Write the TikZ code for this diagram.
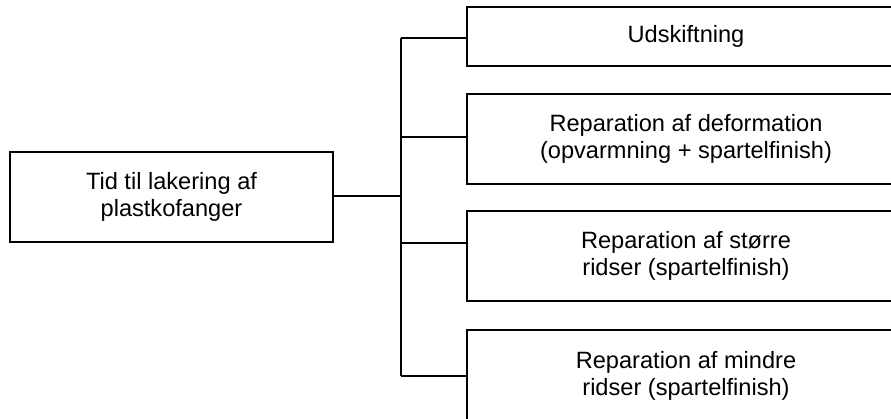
\documentclass[tikz,border=0pt]{standalone}
\usepackage{fontspec}
\setmainfont{Liberation Sans}
\begin{document}
\begin{tikzpicture}[x=1pt,y=-1pt,
  box/.style={draw=black, line width=1.8pt, fill=white, align=center, inner sep=0pt,
    font=\fontsize{23.6}{27}\selectfont},
  conn/.style={draw=black, line width=1.8pt}]
\useasboundingbox (0,0) rectangle (891,419);
\clip (0,0) rectangle (891,419);
\fill[white] (0,0) rectangle (891,419);
% root box
\node[box, minimum width=323pt, minimum height=90pt] (root) at (171.5,197) {Tid til lakering af\\plastkofanger};
% right boxes
\node[box, minimum width=438pt, minimum height=59pt] (b1) at (686,36.5) {Udskiftning};
\node[box, minimum width=438pt, minimum height=90pt] (b2) at (686,139) {Reparation af deformation\\(opvarmning + spartelfinish)};
\node[box, minimum width=438pt, minimum height=90pt] (b3) at (686,256) {Reparation af større\\ridser (spartelfinish)};
\node[box, minimum width=438pt, minimum height=91pt] (b4) at (686,375.5) {Reparation af mindre\\ridser (spartelfinish)};
% trunk coordinates
\coordinate (t0) at (401,196);
\coordinate (t1) at (401,38);
\coordinate (t2) at (401,137);
\coordinate (t3) at (401,243);
\coordinate (t4) at (401,376);
\draw[conn] (root.east |- t0) -- (t0);
\draw[conn] (t1) -- (t4);
\draw[conn] (t1) -- (t1 -| b1.west);
\draw[conn] (t2) -- (t2 -| b2.west);
\draw[conn] (t3) -- (t3 -| b3.west);
\draw[conn] (t4) -- (t4 -| b4.west);
\end{tikzpicture}
\end{document}
